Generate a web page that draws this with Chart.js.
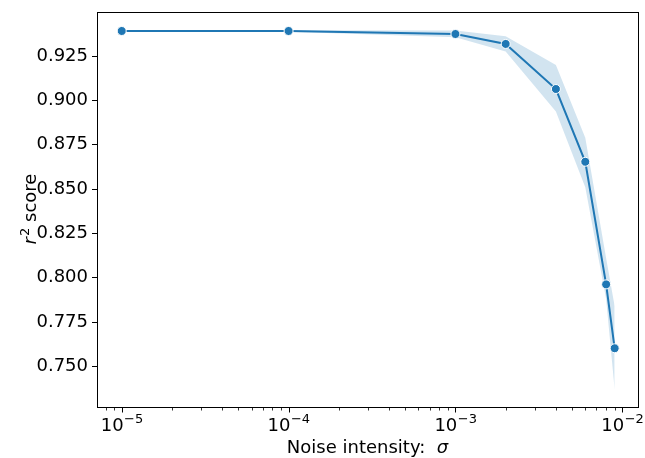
<!DOCTYPE html>
<html>
<head>
<meta charset="utf-8">
<script src="https://cdn.jsdelivr.net/npm/chart.js@4/dist/chart.umd.min.js"></script>
<style>
  html, body { margin: 0; padding: 0; background: #fff; }
  canvas { display: block; }
</style>
</head>
<body>
<canvas id="chart" width="645" height="458"></canvas>
<script>
// Noise level sigma and the r^2 score (mean with confidence band)
const sigma   = [1e-5, 1e-4, 1e-3, 2e-3, 4e-3, 6e-3, 8e-3, 9e-3];
const r2Mean  = [0.9391, 0.9391, 0.9374, 0.9318, 0.9064, 0.8654, 0.7963, 0.7603];
const r2Upper = [0.9393, 0.9395, 0.9394, 0.9362, 0.9199, 0.8790, 0.8110, 0.7840];
const r2Lower = [0.9389, 0.9387, 0.9356, 0.9275, 0.8937, 0.8510, 0.7880, 0.7370];

// Axis ticks
const yTickValues = [0.750, 0.775, 0.800, 0.825, 0.850, 0.875, 0.900, 0.925];
const xMajorTicks = [1e-5, 1e-4, 1e-3, 1e-2];
const xTickExponents = ['\u22125', '\u22124', '\u22123', '\u22122'];
const xMinorMultipliers = [2, 3, 4, 5, 6, 7, 8, 9];

const BLUE = '#1f77b4';
const FONT = '"DejaVu Sans", "Liberation Sans", sans-serif';
const FS = 18;

const pts = (ys) => sigma.map((x, i) => ({ x: x, y: ys[i] }));

// Frame, log-axis tick marks/labels and the two axis titles
const decorations = {
  id: 'decorations',
  afterDraw(chart) {
    const ctx = chart.ctx;
    const a = chart.chartArea;
    const xs = chart.scales.x;
    ctx.save();

    // axes box
    ctx.strokeStyle = '#000';
    ctx.lineWidth = 1;
    ctx.strokeRect(Math.round(a.left) + 0.5, Math.round(a.top) + 0.5,
                   Math.round(a.right - a.left), Math.round(a.bottom - a.top));

    // x tick marks: minor then major
    const yb = Math.round(a.bottom) + 0.5;
    ctx.beginPath();
    for (let e = -6; e <= -2; e++) {
      for (const m of xMinorMultipliers) {
        const v = m * Math.pow(10, e);
        if (v < xs.min || v > xs.max) continue;
        const px = Math.round(xs.getPixelForValue(v)) + 0.5;
        ctx.moveTo(px, yb); ctx.lineTo(px, yb + 3);
      }
    }
    ctx.lineWidth = 0.8;
    ctx.stroke();
    ctx.beginPath();
    xMajorTicks.forEach(v => {
      const px = Math.round(xs.getPixelForValue(v)) + 0.5;
      ctx.moveTo(px, yb); ctx.lineTo(px, yb + 5);
    });
    ctx.lineWidth = 1;
    ctx.stroke();

    // x tick labels 10^k
    ctx.fillStyle = '#000';
    ctx.textBaseline = 'alphabetic';
    ctx.textAlign = 'left';
    const expSize = Math.round(FS * 0.7);
    xMajorTicks.forEach((v, i) => {
      const px = xs.getPixelForValue(v);
      ctx.font = FS + 'px ' + FONT;
      const wBase = ctx.measureText('10').width;
      ctx.font = expSize + 'px ' + FONT;
      const wExp = ctx.measureText(xTickExponents[i]).width;
      const x0 = px - (wBase + wExp) / 2;
      const base = a.bottom + 24;
      ctx.font = FS + 'px ' + FONT;
      ctx.fillText('10', x0, base);
      ctx.font = expSize + 'px ' + FONT;
      ctx.fillText(xTickExponents[i], x0 + wBase + 0.5, base - 8);
    });

    // x axis title
    const xt1 = 'Noise intensity:  ';
    const xt2 = '\u03c3';
    ctx.font = FS + 'px ' + FONT;
    const w1 = ctx.measureText(xt1).width;
    ctx.font = 'italic ' + FS + 'px ' + FONT;
    const w2 = ctx.measureText(xt2).width;
    const cx = (a.left + a.right) / 2;
    const sx = cx - (w1 + w2) / 2;
    ctx.font = FS + 'px ' + FONT;
    ctx.fillText(xt1, sx, a.bottom + 46);
    ctx.font = 'italic ' + FS + 'px ' + FONT;
    ctx.fillText(xt2, sx + w1, a.bottom + 46);

    // y axis title: r^2 score
    ctx.translate(a.left - 61, (a.top + a.bottom) / 2);
    ctx.rotate(-Math.PI / 2);
    ctx.font = 'italic ' + FS + 'px ' + FONT;
    const wr = ctx.measureText('r').width;
    ctx.font = expSize + 'px ' + FONT;
    const w2s = ctx.measureText('2').width;
    ctx.font = FS + 'px ' + FONT;
    const ws = ctx.measureText(' score').width;
    const ty = -(wr + w2s + ws) / 2;
    ctx.font = 'italic ' + FS + 'px ' + FONT;
    ctx.fillText('r', ty, 0);
    ctx.font = expSize + 'px ' + FONT;
    ctx.fillText('2', ty + wr + 1, -7);
    ctx.font = FS + 'px ' + FONT;
    ctx.fillText(' score', ty + wr + w2s + 1, 0);

    ctx.restore();
  }
};

new Chart(document.getElementById('chart'), {
  type: 'line',
  data: {
    datasets: [
      {
        label: 'upper',
        data: pts(r2Upper),
        borderWidth: 0,
        borderColor: 'rgba(0,0,0,0)',
        pointRadius: 0,
        fill: false,
        order: 2
      },
      {
        label: 'lower',
        data: pts(r2Lower),
        borderWidth: 0,
        borderColor: 'rgba(0,0,0,0)',
        backgroundColor: 'rgba(31,119,180,0.2)',
        pointRadius: 0,
        fill: '-1',
        order: 1
      },
      {
        label: 'r2',
        data: pts(r2Mean),
        borderColor: BLUE,
        borderWidth: 2,
        pointRadius: 4.5,
        pointBackgroundColor: BLUE,
        pointBorderColor: '#fff',
        pointBorderWidth: 1,
        fill: false,
        order: 0
      }
    ]
  },
  options: {
    responsive: false,
    animation: false,
    devicePixelRatio: 1,
    layout: { padding: { top: 12, right: 7, left: 0, bottom: 0 } },
    plugins: {
      legend: { display: false },
      tooltip: { enabled: false }
    },
    scales: {
      x: {
        type: 'logarithmic',
        min: 7.11e-6,
        max: 1.242e-2,
        grid: { display: false },
        border: { display: false },
        ticks: { display: false },
        afterFit(scale) {
          scale.height = 51;
          scale.paddingLeft = 0;
          scale.paddingRight = 0;
        }
      },
      y: {
        type: 'linear',
        min: 0.7272,
        max: 0.9498,
        afterBuildTicks(scale) {
          scale.ticks = yTickValues.map(v => ({ value: v }));
        },
        afterFit(scale) {
          scale.width = 97;
          scale.paddingTop = 0;
          scale.paddingBottom = 0;
        },
        grid: {
          drawOnChartArea: false,
          drawTicks: true,
          tickLength: 5,
          tickColor: '#000',
          tickWidth: 1
        },
        border: { display: false },
        ticks: {
          color: '#000',
          padding: 4,
          font: { family: FONT, size: FS },
          callback: (v) => Number(v).toFixed(3)
        }
      }
    }
  },
  plugins: [decorations]
});
</script>
</body>
</html>
